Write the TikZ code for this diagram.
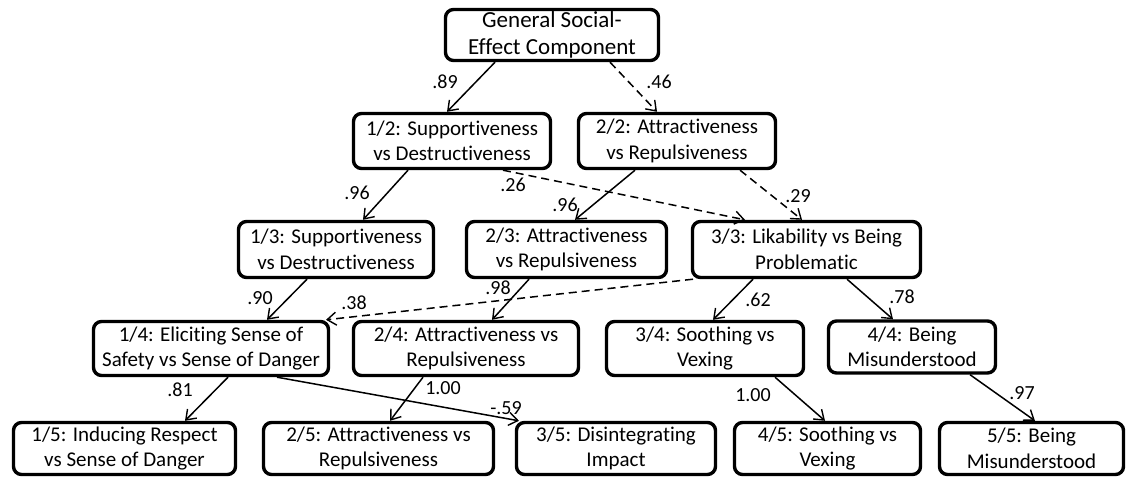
\documentclass[tikz,border=0pt]{standalone}
\usepackage{fontspec}
\setmainfont{Carlito}[Ligatures={NoCommon,NoDiscretionary}]
\usetikzlibrary{arrows.meta}
\tikzset{
  box/.style={draw, line width=3.4pt, rounded corners=8pt, align=center, inner sep=0pt,
    font=\fontsize{21}{25.5}\selectfont, fill=white},
  lab/.style={inner sep=0pt, font=\fontsize{20}{24}\selectfont},
  link/.style={line width=1.5pt, -{Straight Barb[length=9pt,width=13pt,line width=1.4pt]}},
  dlink/.style={link, dash pattern=on 8pt off 5pt},
}
\begin{document}
\begin{tikzpicture}[x=1pt,y=-1pt]
\useasboundingbox (0,0) rectangle (1131,478);
% nodes
\node[box, minimum width=213pt, minimum height=51pt, font=\fontsize{23}{27}\selectfont] (top) at (552,35) {General Social-\\Effect Component};
\node[box, minimum width=197pt, minimum height=55pt] (n12) at (452,141) {1/2: Supportiveness\\vs Destructiveness};
\node[box, minimum width=197pt, minimum height=55pt] (n22) at (677,141) {2/2: Attractiveness\\vs Repulsiveness};
\node[box, minimum width=195pt, minimum height=56pt] (n13) at (336,249.5) {1/3: Supportiveness\\vs Destructiveness};
\node[box, minimum width=200pt, minimum height=56pt] (n23) at (566.5,249.5) {2/3: Attractiveness\\vs Repulsiveness};
\node[box, minimum width=228pt, minimum height=56pt] (n33) at (806.5,249.5) {3/3: Likability vs Being\\Problematic};
\node[box, minimum width=235pt, minimum height=54pt] (n14) at (211,348.5) {1/4: Eliciting Sense of\\Safety vs Sense of Danger};
\node[box, minimum width=225pt, minimum height=54pt] (n24) at (466,348.5) {2/4: Attractiveness vs\\Repulsiveness};
\node[box, minimum width=197pt, minimum height=54pt] (n34) at (705,348.5) {3/4: Soothing vs\\Vexing};
\node[box, minimum width=167pt, minimum height=52pt] (n44) at (912,347) {4/4: Being\\Misunderstood};
\node[box, minimum width=222pt, minimum height=52pt] (n15) at (124.5,448.5) {1/5: Inducing Respect\\vs Sense of Danger};
\node[box, minimum width=230pt, minimum height=52pt] (n25) at (378.5,448.5) {2/5: Attractiveness vs\\Repulsiveness};
\node[box, minimum width=199pt, minimum height=52pt] (n35) at (616,448.5) {3/5: Disintegrating\\Impact};
\node[box, minimum width=186pt, minimum height=52pt] (n45) at (827.5,448.5) {4/5: Soothing vs\\Vexing};
\node[box, minimum width=184pt, minimum height=52pt] (n55) at (1031.5,448.5) {5/5: Being\\Misunderstood};
% connectors
\draw[link]  ([xshift=-57pt]top.south) -- ([xshift=-5pt]n12.north);
\draw[dlink] ([xshift=58pt]top.south) -- ([xshift=-20pt]n22.north);
\draw[link]  ([xshift=-44pt]n12.south) -- ([xshift=27pt]n13.north);
\draw[dlink] ([xshift=51pt]n12.south) -- ([xshift=-61.5pt]n33.north);
\draw[link]  ([xshift=-42pt]n22.south) -- ([xshift=8.5pt]n23.north);
\draw[dlink] ([xshift=63pt]n22.south) -- ([xshift=-4.5pt]n33.north);
\draw[link]  ([xshift=-29pt]n13.south) -- ([xshift=56pt]n14.north);
\draw[link]  ([xshift=-37.5pt]n23.south) -- ([xshift=26pt]n24.north);
\draw[dlink] ([xshift=-113.5pt]n33.south) -- ([xshift=115pt]n14.north);
\draw[link]  ([xshift=-53.5pt]n33.south) -- ([xshift=8pt]n34.north);
\draw[link]  ([xshift=40.5pt]n33.south) -- ([xshift=-19pt]n44.north);
\draw[link]  ([xshift=17pt]n14.south) -- ([xshift=60.5pt]n15.north);
\draw[link]  ([xshift=-43pt]n24.south) -- ([xshift=11.5pt]n25.north);
\draw[link]  ([xshift=66pt]n14.south) -- ([xshift=-97pt]n35.north);
\draw[link]  ([xshift=70pt]n34.south) -- ([xshift=-2.5pt]n45.north);
\draw[link]  ([xshift=58pt]n44.south) -- ([xshift=3.5pt]n55.north);
% labels
\node[lab] (l1) at (445,82) {.89};
\node[lab] (l2) at (659,82) {.46};
\node[lab] (l3) at (357,193) {.96};
\node[lab] (l4) at (513,185) {.26};
\node[lab] (l5) at (565,205) {.96};
\node[lab] (l6) at (798,196) {.29};
\node[lab] (l7) at (260,298) {.90};
\node[lab] (l8) at (498,288) {.98};
\node[lab] (l9) at (354,303) {.38};
\node[lab] (l10) at (758,300) {.62};
\node[lab] (l11) at (902,297) {.78};
\node[lab] (l12) at (180,390) {.81};
\node[lab] (l13) at (443,388) {1.00};
\node[lab] (l14) at (506,408) {-.59};
\node[lab] (l15) at (753,395) {1.00};
\node[lab] (l16) at (1022,393) {.97};
\end{tikzpicture}
\end{document}
